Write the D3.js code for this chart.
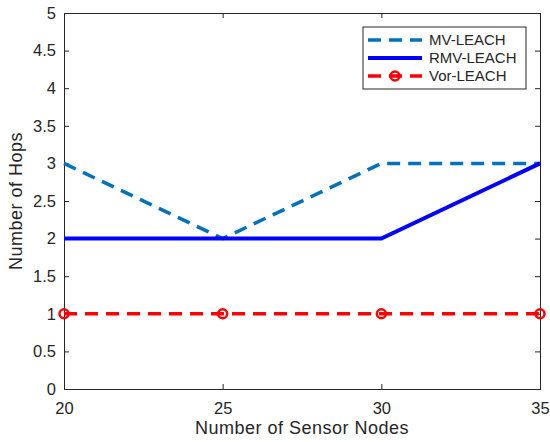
<!DOCTYPE html>
<html>
<head>
<meta charset="utf-8">
<script src="https://cdn.jsdelivr.net/npm/d3@7"></script>
<style>
  body { margin: 0; background: #fff; }
  text { font-family: "Liberation Sans", Arial, sans-serif; }
</style>
</head>
<body>
<svg id="chart"></svg>
<script>
var nodes = [20, 25, 30, 35]
var mvLeach = [3, 2, 3, 3]
var rmvLeach = [2, 2, 2, 3]
var vorLeach = [1, 1, 1, 1]
var yTicks = [0, 0.5, 1, 1.5, 2, 2.5, 3, 3.5, 4, 4.5, 5]
var xTicks = [20, 25, 30, 35]
var seriesNames = ["MV-LEACH", "RMV-LEACH", "Vor-LEACH"]

var W = 550, H = 442
var margin = { top: 13, right: 10, bottom: 53, left: 64 }
var width = W - margin.left - margin.right,
    height = H - margin.top - margin.bottom

var svg = d3.select("#chart").attr("width", W).attr("height", H)
var g = svg.append("g")
  .attr("transform", "translate(" + margin.left + "," + margin.top + ")")

var x = d3.scaleLinear().domain([20, 35]).range([0, width])
var y = d3.scaleLinear().domain([0, 5]).range([height, 0])

var axisColor = "#262626"

var xa = g.append("g")
  .attr("transform", "translate(0," + height + ")")
  .call(d3.axisBottom(x).tickValues(xTicks).tickSize(-5).tickPadding(13).tickFormat(d3.format("d")))
var ya = g.append("g")
  .call(d3.axisLeft(y).tickValues(yTicks).tickSize(-5).tickPadding(8).tickFormat(function(d){ return d }))
// mirrored ticks on top and right (box on)
var xt = g.append("g")
  .call(d3.axisTop(x).tickValues(xTicks).tickSize(-5).tickFormat(""))
var yr = g.append("g")
  .attr("transform", "translate(" + width + ",0)")
  .call(d3.axisRight(y).tickValues(yTicks).tickSize(-5).tickFormat(""))

;[xa, ya, xt, yr].forEach(function(a) {
  a.selectAll("path,line").attr("stroke", axisColor).attr("stroke-width", 1)
  a.selectAll("text").attr("fill", axisColor).style("font-size", "16.5px")
})

var line = d3.line()
  .x(function(d, i) { return x(nodes[i]) })
  .y(function(d) { return y(d) })

g.append("path").datum(mvLeach)
  .attr("d", line).attr("fill", "none")
  .attr("stroke", "#0072BD").attr("stroke-width", 3.5)
  .attr("stroke-dasharray", "13,8")

g.append("path").datum(rmvLeach)
  .attr("d", line).attr("fill", "none")
  .attr("stroke", "#0000FF").attr("stroke-width", 4)

g.append("path").datum(vorLeach)
  .attr("d", line).attr("fill", "none")
  .attr("stroke", "#FF0000").attr("stroke-width", 3.5)
  .attr("stroke-dasharray", "13,8")

g.selectAll(".vor").data(vorLeach).enter().append("circle")
  .attr("cx", function(d, i) { return x(nodes[i]) })
  .attr("cy", function(d) { return y(d) })
  .attr("r", 4.5)
  .attr("fill", "none").attr("stroke", "#FF0000").attr("stroke-width", 2.5)

// axis titles
svg.append("text")
  .attr("x", margin.left + width / 2).attr("y", 434)
  .attr("text-anchor", "middle").attr("fill", axisColor)
  .style("font-size", "18px").style("letter-spacing", "0.5px")
  .text("Number of Sensor Nodes")
svg.append("text")
  .attr("transform", "translate(22," + (margin.top + height / 2) + ") rotate(-90)")
  .attr("text-anchor", "middle").attr("fill", axisColor)
  .style("font-size", "18px").style("letter-spacing", "0.5px")
  .text("Number of Hops")

// legend
var lg = svg.append("g").attr("transform", "translate(363,27)")
lg.append("rect").attr("width", 163).attr("height", 62)
  .attr("fill", "#fff").attr("stroke", axisColor).attr("stroke-width", 1)
var styles = [
  { c: "#0072BD", w: 3.5, dash: "13,8" },
  { c: "#0000FF", w: 4, dash: null },
  { c: "#FF0000", w: 3.5, dash: "13,8" }
]
seriesNames.forEach(function(name, i) {
  var yy = 13 + i * 18
  lg.append("line").attr("x1", 5).attr("x2", 59).attr("y1", yy).attr("y2", yy)
    .attr("stroke", styles[i].c).attr("stroke-width", styles[i].w)
    .attr("stroke-dasharray", styles[i].dash)
  if (i === 2) {
    lg.append("circle").attr("cx", 32).attr("cy", yy).attr("r", 4.5)
      .attr("fill", "none").attr("stroke", "#FF0000").attr("stroke-width", 2.5)
  }
  lg.append("text").attr("x", 66).attr("y", yy + 5)
    .attr("fill", axisColor).style("font-size", "15px").text(name)
})
</script>
</body>
</html>
